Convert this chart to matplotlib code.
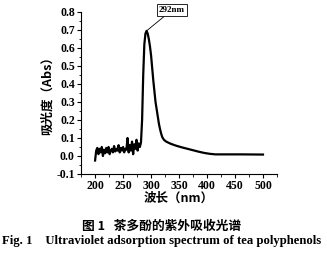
import matplotlib
matplotlib.use("Agg")
import matplotlib.pyplot as plt
from matplotlib.ticker import MultipleLocator

# noisy baseline region (200-282 nm, 2 nm steps)
wl_noise = list(range(200, 284, 2))
abs_noise = [-0.025, 0.03, 0.045, 0.01, 0.04, 0.02, 0.05, 0.0, 0.035, 0.015,
             0.045, 0.02, 0.05, 0.01, 0.03, 0.04, 0.02, 0.055, 0.025, 0.04,
             0.03, 0.06, 0.02, 0.045, 0.03, 0.05, 0.02, 0.04, 0.035, 0.1,
             0.02, 0.06, 0.03, 0.08, 0.01, 0.065, 0.04, 0.09, 0.03, 0.07,
             0.05, 0.075]

# absorption band and tail
wl_band = [284, 286, 288, 290, 292, 294, 296, 298, 300, 302, 304, 306, 308,
           310, 312, 314, 316, 318, 320, 323, 327, 335, 345, 355, 365, 375,
           385, 395, 405, 415, 430, 460, 500]
abs_band = [0.2, 0.45, 0.62, 0.68, 0.695, 0.68, 0.65, 0.61, 0.56, 0.49, 0.42,
            0.36, 0.30, 0.26, 0.22, 0.18, 0.15, 0.125, 0.105, 0.09, 0.08,
            0.068, 0.057, 0.048, 0.04, 0.032, 0.024, 0.017, 0.012, 0.009,
            0.009, 0.009, 0.008]

wl = wl_noise + wl_band
absorb = abs_noise + abs_band

serif = ["Liberation Serif", "DejaVu Serif"]
cjk = ["Noto Sans CJK SC", "DejaVu Sans"]

fig = plt.figure(figsize=(3.27, 2.58), dpi=100)
ax = fig.add_axes([0.248, 0.3256, 0.599, 0.628])
ax.plot(wl, absorb, color="black", lw=1.6)

ax.set_xlim(175, 525)
ax.set_ylim(-0.1, 0.8)
ax.xaxis.set_major_locator(MultipleLocator(50))
ax.xaxis.set_minor_locator(MultipleLocator(25))
ax.yaxis.set_major_locator(MultipleLocator(0.1))
ax.yaxis.set_minor_locator(MultipleLocator(0.05))
ax.spines["top"].set_visible(False)
ax.spines["right"].set_visible(False)
ax.tick_params(which="major", direction="out", length=3, width=0.8, pad=1.5)
ax.tick_params(which="minor", direction="out", length=1.8, width=0.6)
ax.set_xticks([200, 250, 300, 350, 400, 450, 500])
for lab in ax.get_xticklabels() + ax.get_yticklabels():
    lab.set_family(serif)
    lab.set_fontweight("bold")
    lab.set_fontsize(8.5)
ax.yaxis.set_major_formatter(plt.FuncFormatter(lambda v, p: "%.1f" % v))

ax.set_xlabel("波长（nm）", family=cjk, fontsize=9, fontweight="bold", labelpad=0)
ax.set_ylabel("吸光度（Abs）", family=cjk, fontsize=9, fontweight="bold", labelpad=2)

ax.annotate("292nm", xy=(292, 0.695), xytext=(337, 0.81),
            ha="center", va="center", fontsize=6.5, family=serif,
            fontweight="bold", annotation_clip=False,
            bbox=dict(boxstyle="square,pad=0.25", fc="white", ec="black", lw=0.6),
            arrowprops=dict(arrowstyle="-", lw=0.6, color="black",
                            shrinkA=0, shrinkB=0))

fig.text(0.495, 0.124, "图 1   茶多酚的紫外吸收光谱", family=cjk,
         fontsize=9.2, fontweight="bold", ha="center", va="center")
fig.text(0.493, 0.066, "Fig. 1    Ultraviolet adsorption spectrum of tea polyphenols",
         family=serif, fontsize=9.2, fontweight="bold", ha="center", va="center")

fig.savefig("out.png", dpi=100)
